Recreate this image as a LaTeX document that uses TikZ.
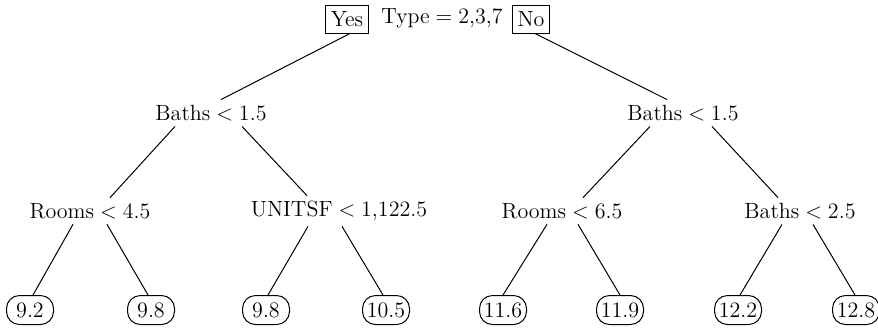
\documentclass[tikz,border=0pt]{standalone}
\usepackage{tikz}

\newcommand{\treefont}{\fontsize{11}{13}\selectfont\spaceskip.27em\relax}

\begin{document}
\begin{tikzpicture}
		[x=0.5pt,y=-0.5pt,line width=0.5pt,
		 every node/.style={font=\treefont},
		 t/.style= {inner sep=2.5pt},
		 bx/.style= {draw,rectangle,inner xsep=2.5pt,inner ysep=1.5pt,minimum height=14pt},
		 lf/.style= {draw,rounded corners=6.5pt,minimum width=23.5pt,minimum height=14.5pt,inner xsep=1.5pt,inner ysep=0pt}]

		\useasboundingbox (0,0) rectangle (878,329);

		% root split
		\node[t] (root) at (442,18) {Type = 2,3,7};
		\node[bx] (yes) at (347,19) {Yes};
		\node[bx] (no) at (531,19) {No};

		% first level
		\node[t] (b1) at (211,113) {Baths < 1.5};
		\node[t] (b2) at (683,113) {Baths < 1.5};

		% second level
		\node[t] (r1) at (90,211) {Rooms < 4.5};
		\node[t] (u1) at (339,211) {UNITSF < 1,122.5};
		\node[t] (r2) at (562,211) {Rooms < 6.5};
		\node[t] (b3) at (800,211) {Baths < 2.5};

		% leaves
		\node[lf] (l1) at (30,310) {9.2};
		\node[lf] (l2) at (151,310) {9.8};
		\node[lf] (l3) at (266,310) {9.8};
		\node[lf] (l4) at (386,310) {10.5};
		\node[lf] (l5) at (503,310) {11.6};
		\node[lf] (l6) at (620,310) {11.9};
		\node[lf] (l7) at (738,310) {12.2};
		\node[lf] (l8) at (856,310) {12.8};

		\draw ([xshift=1.5pt]yes.south) -- ([xshift=5pt]b1.north)
		;
		\draw ([xshift=2pt]no.south) -- ([xshift=-8pt]b2.north)
		;

		\draw ([xshift=-18pt]b1.south) -- ([xshift=10pt]r1.north)
		;
		\draw ([xshift=15.5pt]b1.south) -- ([xshift=-16pt]u1.north)
		;
		\draw ([xshift=-16.5pt]b2.south) -- ([xshift=10.5pt]r2.north)
		;
		\draw ([xshift=14.5pt]b2.south) -- ([xshift=-11pt]b3.north)
		;

		\draw ([xshift=-8.5pt]r1.south) -- ([xshift=1.5pt]l1.north)
		;
		\draw ([xshift=8.5pt]r1.south) -- ([xshift=-1.5pt]l2.north)
		;
		\draw ([xshift=-15.5pt]u1.south) -- ([xshift=1pt]l3.north)
		;
		\draw ([xshift=1.5pt]u1.south) -- ([xshift=-1.5pt]l4.north)
		;
		\draw ([xshift=-7.5pt]r2.south) -- (l5.north)
		;
		\draw ([xshift=8pt]r2.south) -- (l6.north)
		;
		\draw ([xshift=-9pt]b3.south) -- ([xshift=1pt]l7.north)
		;
		\draw ([xshift=6.5pt]b3.south) -- ([xshift=-0.5pt]l8.north)
		;

\end{tikzpicture}
\end{document}
